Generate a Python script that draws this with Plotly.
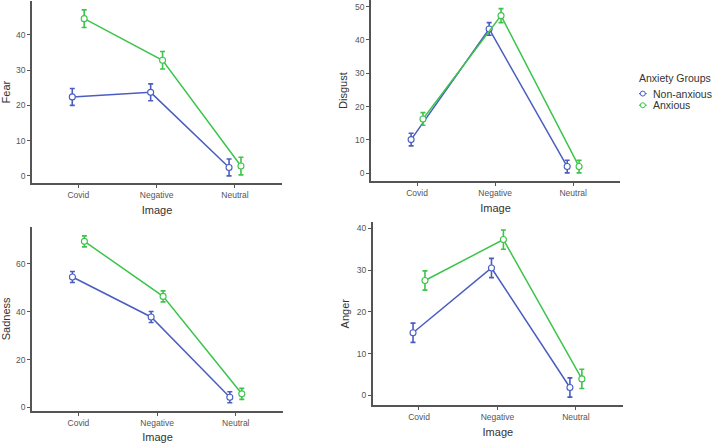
import plotly.graph_objects as go

categories = ["Covid", "Negative", "Neutral"]
groups = ["Non-anxious", "Anxious"]

fear_non = [22.4, 23.7, 2.4]
fear_anx = [44.6, 32.8, 2.8]
fear_non_err = [2.4, 2.4, 2.4]
fear_anx_err = [2.5, 2.5, 2.5]

disgust_non = [10.1, 43.3, 2.0]
disgust_anx = [16.3, 47.3, 2.0]
disgust_non_err = [1.9, 1.9, 1.9]
disgust_anx_err = [1.9, 2.1, 1.9]

sadness_non = [54.5, 37.8, 4.3]
sadness_anx = [69.4, 46.4, 5.7]
sadness_non_err = [2.3, 2.3, 2.3]
sadness_anx_err = [2.3, 2.3, 2.3]

anger_non = [15.0, 30.5, 1.9]
anger_anx = [27.5, 37.3, 3.95]
anger_non_err = [2.3, 2.3, 2.3]
anger_anx_err = [2.3, 2.3, 2.3]

BLUE = "#4A5EC0"
GREEN = "#3CC44B"
FONT = "Liberation Sans, Arial, sans-serif"
AXIS = "#555555"

panels = [
    # name, non, anx, non_err, anx_err, xdomain, ydomain, yrange, tickvals
    ("Fear", fear_non, fear_anx, fear_non_err, fear_anx_err,
     [0.0448, 0.395], [0.5856, 0.9977], [-2.06, 49.6], [0, 10, 20, 30, 40]),
    ("Disgust", disgust_non, disgust_anx, disgust_non_err, disgust_anx_err,
     [0.5196, 0.8683], [0.590, 1.0], [-2.4, 52.0], [0, 10, 20, 30, 40, 50]),
    ("Sadness", sadness_non, sadness_anx, sadness_non_err, sadness_anx_err,
     [0.0448, 0.3964], [0.0705, 0.4865], [-1.4, 75.4], [0, 20, 40, 60]),
    ("Anger", anger_non, anger_anx, anger_non_err, anger_anx_err,
     [0.522, 0.8725], [0.0827, 0.4977], [-2.4, 41.5], [0, 10, 20, 30, 40]),
]

dodge = 0.076
xpos = list(range(len(categories)))

fig = go.Figure()
layout = dict(
    width=714, height=444,
    margin=dict(l=0, r=0, t=0, b=0),
    paper_bgcolor="white", plot_bgcolor="white",
    showlegend=False,
    font=dict(family=FONT, color="#333333"),
)

for i, (name, non, anx, non_e, anx_e, xd, yd, yr, tv) in enumerate(panels):
    suffix = "" if i == 0 else str(i + 1)
    xa = "x" + suffix
    ya = "y" + suffix
    for vals, errs, col, off, gname in [(non, non_e, BLUE, -dodge, groups[0]),
                                        (anx, anx_e, GREEN, dodge, groups[1])]:
        fig.add_trace(go.Scatter(
            x=[p + off for p in xpos], y=vals,
            mode="lines+markers", name=gname,
            line=dict(color=col, width=1.5),
            marker=dict(symbol="circle", size=6, color="white",
                        line=dict(color=col, width=1.1)),
            error_y=dict(type="data", array=errs, visible=True,
                         color=col, thickness=1.6, width=2.5),
            xaxis=xa, yaxis=ya, cliponaxis=False,
        ))
    layout["xaxis" + suffix] = dict(
        domain=xd, anchor=ya, range=[-0.59, 2.6],
        tickvals=xpos, ticktext=categories,
        showgrid=False, zeroline=False,
        showline=True, linecolor=AXIS, linewidth=1.5,
        ticks="outside", ticklen=3, tickcolor=AXIS, tickwidth=1,
        tickfont=dict(size=8.5, color="#555555", family=FONT),
        title=dict(text="Image", font=dict(size=11, color="#333333", family=FONT),
                   standoff=7),
    )
    layout["yaxis" + suffix] = dict(
        domain=yd, anchor=xa, range=yr,
        tickvals=tv,
        showgrid=False, zeroline=False,
        showline=True, linecolor=AXIS, linewidth=1.5,
        ticks="outside", ticklen=3, tickcolor=AXIS, tickwidth=1,
        tickfont=dict(size=8.5, color="#555555", family=FONT),
        title=dict(text=name, font=dict(size=11, color="#333333", family=FONT),
                   standoff=5),
    )

fig.update_layout(**layout)

# custom legend
fig.add_annotation(x=637 / 714, y=1 - 78.3 / 444, xref="paper", yref="paper",
                   text="Anxiety Groups", showarrow=False, xanchor="left",
                   yanchor="middle", font=dict(size=10.5, color="#333333", family=FONT))
for k, (gname, col) in enumerate(zip(groups, [BLUE, GREEN])):
    yy = 1 - (94 + 11.7 * k) / 444
    fig.add_shape(type="line", xref="paper", yref="paper",
                  x0=639 / 714, x1=646.7 / 714, y0=yy, y1=yy,
                  line=dict(color=col, width=1.2))
    fig.add_shape(type="circle", xref="paper", yref="paper",
                  x0=(642.8 - 2.5) / 714, x1=(642.8 + 2.5) / 714,
                  y0=yy - 2.5 / 444, y1=yy + 2.5 / 444,
                  fillcolor="white", line=dict(color=col, width=1))
    fig.add_annotation(x=650.5 / 714, y=yy, xref="paper", yref="paper",
                       text=gname, showarrow=False, xanchor="left", yanchor="middle",
                       font=dict(size=10.5, color="#333333", family=FONT))

fig.write_html("out.html",
               config={"displayModeBar": False},
               post_script="document.body.style.margin='0px';document.body.style.overflow='hidden';")
